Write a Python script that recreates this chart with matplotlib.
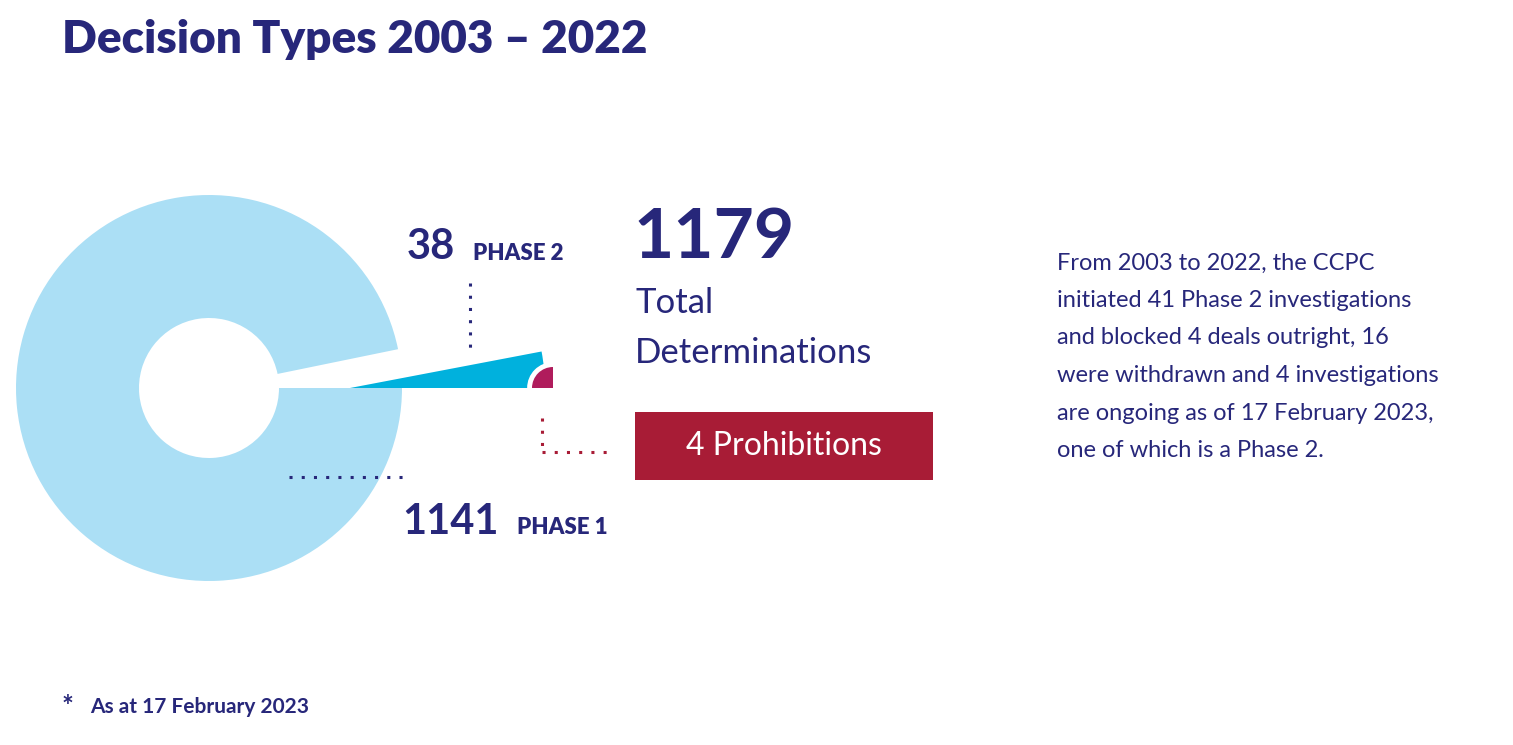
import matplotlib
matplotlib.use("Agg")
import matplotlib.pyplot as plt
from matplotlib.patches import Wedge, Rectangle

categories = ["Phase 1", "Phase 2", "Prohibitions"]
values = [1141, 38, 4]
total = 1179

NAVY = "#27277a"
LBLUE = "#abdff5"
CYAN = "#00b1dd"
MAG = "#b01c5c"
RED = "#a81c36"

fig = plt.figure(figsize=(15.13, 7.45), dpi=100)
ax = fig.add_axes([0, 0, 1, 1])
ax.set_xlim(0, 1513); ax.set_ylim(0, 745); ax.axis("off")
H = 745
def Y(py): return H - py

ang2 = values[1] / total * 360
cx, cy = 209, Y(388)
ax.add_patch(Wedge((cx, cy), 193, ang2, 360, width=123, facecolor=LBLUE, edgecolor="none"))
ax.add_patch(Wedge((350, cy), 195, 0, ang2 * 0.93, facecolor=CYAN, edgecolor="none"))
ax.add_patch(Wedge((553, cy), 21, 90, 180, facecolor=MAG, edgecolor="white", linewidth=7, zorder=3))
ax.add_patch(Wedge((553, cy), 21, 90, 180, facecolor=MAG, edgecolor="none", zorder=4))
ax.add_patch(Rectangle((520, cy - 8), 60, 8, facecolor="white", edgecolor="none", zorder=5))

ax.text(62, Y(40), "Decision Types 2003 – 2022", fontsize=33, fontweight="heavy", color=NAVY,
        family="Lato", va="center")

ax.text(407, Y(247), f"{values[1]}", fontsize=30, fontweight="bold", color=NAVY, family="Lato", va="center")
ax.text(473, Y(254), "PHASE 2", fontsize=16, fontweight="heavy", color=NAVY, family="Lato", va="center")
ax.plot([470, 470], [Y(283), Y(350)], linestyle=(0, (1, 3)), color=NAVY, lw=2.2)

ax.text(402, Y(522), f"{values[0]}", fontsize=30, fontweight="bold", color=NAVY, family="Lato", va="center")
ax.text(517, Y(528), "PHASE 1", fontsize=16, fontweight="heavy", color=NAVY, family="Lato", va="center")
ax.plot([289, 405], [Y(477), Y(477)], linestyle=(0, (1, 3)), color=NAVY, lw=2.2)

ax.text(633, Y(238), f"{total}", fontsize=50, fontweight="bold", color=NAVY, family="Lato", va="center")
ax.text(635, Y(303), "Total", fontsize=25, color=NAVY, family="Lato", va="center")
ax.text(635, Y(353), "Determinations", fontsize=25, color=NAVY, family="Lato", va="center")

ax.plot([542, 542], [Y(418), Y(452)], linestyle=(0, (1, 3)), color=RED, lw=2.2)
ax.plot([542, 615], [Y(452), Y(452)], linestyle=(0, (1, 3)), color=RED, lw=2.2)
ax.add_patch(Rectangle((635, Y(480)), 298, 68, facecolor=RED, edgecolor="none"))
ax.text(784, Y(446), f"{values[2]} Prohibitions", fontsize=23, color="white", family="Lato",
        ha="center", va="center")

para = ["From 2003 to 2022, the CCPC", "initiated 41 Phase 2 investigations",
        "and blocked 4 deals outright, 16", "were withdrawn and 4 investigations",
        "are ongoing as of 17 February 2023,", "one of which is a Phase 2."]
for i, l in enumerate(para):
    ax.text(1057, Y(263 + i * 37.5), l, fontsize=17, color=NAVY, family="Lato", va="center")

ax.text(62, Y(707), "*", fontsize=20, fontweight="bold", color=NAVY, family="Lato", va="center")
ax.text(90, Y(707), "As at 17 February 2023", fontsize=15, fontweight="bold", color=NAVY,
        family="Lato", va="center")

fig.savefig("out.png", dpi=100)
